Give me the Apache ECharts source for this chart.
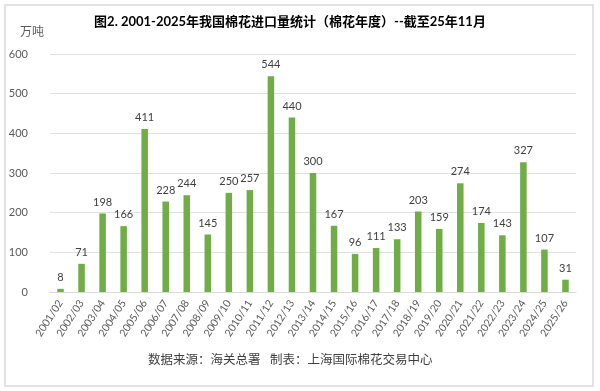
<!DOCTYPE html>
<html><head><meta charset="utf-8">
<script src="https://cdn.jsdelivr.net/npm/echarts@6/dist/echarts.min.js"></script>
<style>html,body{margin:0;padding:0;background:#fff}#c{width:600px;height:391px}</style>
</head><body><div id="c"></div>
<script>
const categories = ['2001/02','2002/03','2003/04','2004/05','2005/06','2006/07','2007/08','2008/09','2009/10','2010/11','2011/12','2012/13','2013/14','2014/15','2015/16','2016/17','2017/18','2018/19','2019/20','2020/21','2021/22','2022/23','2023/24','2024/25','2025/26'];
const imports = [8,71,198,166,411,228,244,145,250,257,544,440,300,167,96,111,133,203,159,274,174,143,327,107,31];
const yTicks = {min:0,max:600,interval:100};
const font = 'Lato, "Noto Sans CJK SC", sans-serif';
const chart = echarts.init(document.getElementById('c'));
chart.setOption({
  animation:false,
  backgroundColor:'#fff',
  title:{text:'图2. 2001-2025年我国棉花进口量统计（棉花年度）--截至25年11月',left:285,textAlign:'center',top:10,
    textStyle:{fontSize:13,fontWeight:'bold',color:'#000',fontFamily:font}},
  graphic:[
    {type:'rect',shape:{x:5,y:5,width:588,height:381},style:{fill:'none',stroke:'#d9d9d9',lineWidth:1.5}},
    {type:'text',left:20,top:26,style:{text:'万吨',fontSize:12,fill:'#595959',fontFamily:font}},
    {type:'text',left:148,top:354,style:{text:'数据来源：海关总署   制表：上海国际棉花交易中心',fontSize:12.5,fill:'#404040',fontFamily:font}}
  ],
  grid:{left:50,right:24,top:54,bottom:99,containLabel:false},
  xAxis:{type:'category',data:categories,
    axisLine:{lineStyle:{color:'#d9d9d9'}},axisTick:{show:false},
    axisLabel:{rotate:57,interval:0,fontSize:10.5,color:'#595959',fontFamily:font,margin:9}},
  yAxis:{type:'value',min:yTicks.min,max:yTicks.max,interval:yTicks.interval,
    axisLine:{show:false},axisTick:{show:false},
    splitLine:{lineStyle:{color:'#e0e0e0',width:1}},
    axisLabel:{fontSize:11,color:'#595959',fontFamily:font,margin:22}},
  series:[{type:'bar',data:imports,barWidth:'31%',itemStyle:{color:'#70ad47'},
    label:{show:true,position:'top',fontSize:11,color:'#404040',fontFamily:font,distance:6}}]
});
</script></body></html>
